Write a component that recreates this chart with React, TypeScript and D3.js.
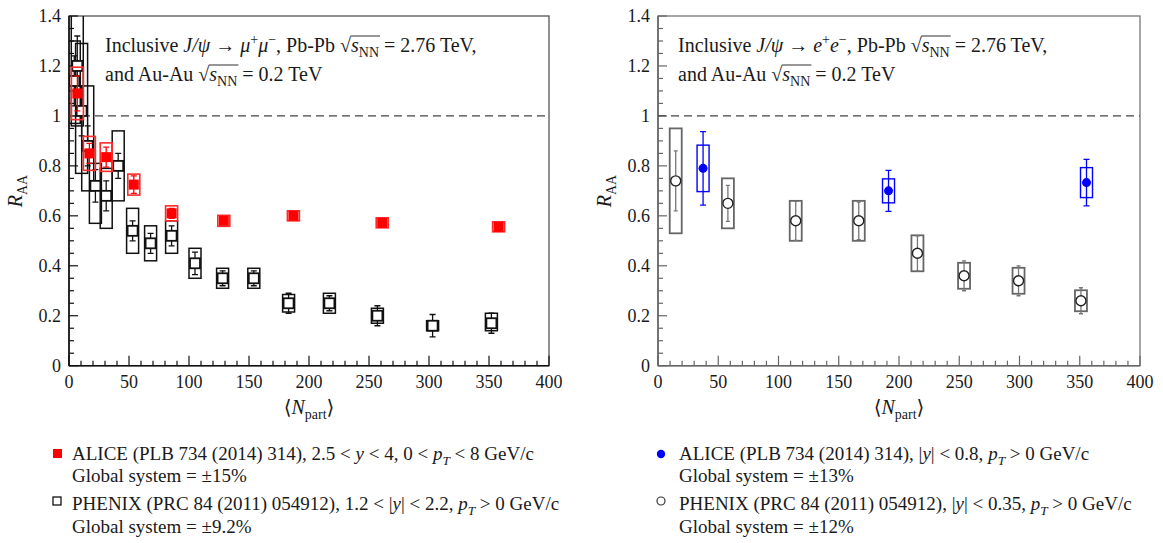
import React, { useRef, useLayoutEffect, useState } from "react";
import * as d3 from "d3";

// ---------------- DATA ----------------
// Left panel: forward rapidity (J/psi -> mu+ mu-)
const aliceFwdNpart = [7, 17, 31, 54, 85.5, 129, 187, 261, 358];
const aliceFwdRaa = [1.09, 0.85, 0.835, 0.725, 0.61, 0.58, 0.6, 0.572, 0.556];
const aliceFwdStat = [0.07, 0.04, 0.04, 0.035, 0.02, 0.012, 0.012, 0.012, 0.012];
const aliceFwdSys = [0.105, 0.068, 0.057, 0.042, 0.03, 0.022, 0.02, 0.02, 0.02];

const phenixFwdNpart = [4.4, 6.9, 10.5, 15.6, 22, 31, 41, 53, 68, 85.5, 105, 128, 154, 183, 217, 257, 303, 352];
const phenixFwdRaa = [1.14, 1.2, 1.02, 0.88, 0.72, 0.68, 0.8, 0.54, 0.49, 0.52, 0.41, 0.35, 0.35, 0.25, 0.25, 0.2, 0.16, 0.17];
const phenixFwdStat = [0.1, 0.12, 0.1, 0.08, 0.065, 0.06, 0.05, 0.04, 0.04, 0.04, 0.045, 0.03, 0.03, 0.04, 0.03, 0.04, 0.045, 0.04];
const phenixFwdSysLo = [0.97, 0.96, 0.77, 0.7, 0.57, 0.55, 0.66, 0.45, 0.42, 0.45, 0.35, 0.31, 0.31, 0.215, 0.21, 0.17, 0.14, 0.14];
const phenixFwdSysHi = [1.3, 1.45, 1.29, 1.12, 0.81, 0.79, 0.94, 0.63, 0.56, 0.58, 0.47, 0.39, 0.39, 0.285, 0.29, 0.23, 0.18, 0.21];

// Right panel: mid rapidity (J/psi -> e+ e-)
const aliceMidNpart = [37.4, 191.3, 355.6];
const aliceMidRaa = [0.79, 0.7, 0.733];
const aliceMidStat = [0.147, 0.082, 0.093];
const aliceMidSys = [0.093, 0.048, 0.06];

const phenixMidNpart = [14.7, 58, 114.3, 166.6, 215.3, 254, 299.2, 351];
const phenixMidRaa = [0.74, 0.65, 0.58, 0.58, 0.45, 0.36, 0.34, 0.26];
const phenixMidStat = [0.12, 0.072, 0.078, 0.075, 0.07, 0.06, 0.06, 0.052];
const phenixMidSys = [0.21, 0.1, 0.08, 0.08, 0.072, 0.052, 0.052, 0.042];

const xTicks = [0, 50, 100, 150, 200, 250, 300, 350, 400];
const yTicks = [0, 0.2, 0.4, 0.6, 0.8, 1, 1.2, 1.4];

// ---------------- TEXT HELPERS ----------------
type Seg = { t: string; i?: boolean; sup?: boolean; sub?: boolean; rad?: boolean };

const FONT = "'Liberation Serif', 'DejaVu Serif', serif";

function Rich({ x, y, fs, segs, anchor = "start", fill = "#1a1a1a", transform }: any) {
  const ref = useRef<SVGTextElement>(null);
  const [ol, setOl] = useState<{ x1: number; x2: number } | null>(null);
  useLayoutEffect(() => {
    const el = ref.current;
    if (!el) return;
    let idx = 0, start = -1, end = -1;
    (segs as Seg[]).forEach((s) => {
      const n = s.t.length;
      if (s.rad) {
        if (start < 0) start = idx;
        end = idx + n - 1;
      }
      idx += n;
    });
    if (start >= 0) {
      try {
        const a = el.getStartPositionOfChar(start).x;
        const b = el.getEndPositionOfChar(end).x;
        setOl({ x1: a - 0.5, x2: b + 1 });
      } catch (e) {}
    }
  }, []);
  let cur = 0;
  const spans = (segs as Seg[]).map((s, k) => {
    const target = s.sup ? -0.38 * fs : s.sub ? 0.24 * fs : 0;
    const dy = target - cur;
    cur = target;
    return (
      <tspan
        key={k}
        dy={dy !== 0 ? dy : undefined}
        fontStyle={s.i ? "italic" : undefined}
        fontSize={s.sup || s.sub ? fs * 0.7 : undefined}
      >
        {s.t}
      </tspan>
    );
  });
  return (
    <g transform={transform}>
      <text ref={ref} x={x} y={y} fontSize={fs} fontFamily={FONT} fill={fill} textAnchor={anchor} style={{ whiteSpace: "pre" }}>
        {spans}
      </text>
      {ol && <line x1={ol.x1} x2={ol.x2} y1={y - fs * 0.8} y2={y - fs * 0.8} stroke={fill} strokeWidth={0.9} />}
    </g>
  );
}

const annoLeft1: Seg[] = [
  { t: "Inclusive " }, { t: "J/ψ", i: true }, { t: " → " }, { t: "μ", i: true }, { t: "+", sup: true },
  { t: "μ", i: true }, { t: "−", sup: true }, { t: ", Pb-Pb " }, { t: "√" }, { t: "s", i: true, rad: true },
  { t: "NN", sub: true, rad: true }, { t: " = 2.76 TeV," },
];
const annoLeft2: Seg[] = [
  { t: "and Au-Au " }, { t: "√" }, { t: "s", i: true, rad: true }, { t: "NN", sub: true, rad: true }, { t: " = 0.2 TeV" },
];
const annoRight1: Seg[] = [
  { t: "Inclusive " }, { t: "J/ψ", i: true }, { t: " → " }, { t: "e", i: true }, { t: "+", sup: true },
  { t: "e", i: true }, { t: "−", sup: true }, { t: ", Pb-Pb " }, { t: "√" }, { t: "s", i: true, rad: true },
  { t: "NN", sub: true, rad: true }, { t: " = 2.76 TeV," },
];
const annoRight2 = annoLeft2;

const legL1: Seg[] = [
  { t: "ALICE (PLB 734 (2014) 314), 2.5 < " }, { t: "y", i: true }, { t: " < 4, 0 < " }, { t: "p", i: true },
  { t: "T", i: true, sub: true }, { t: " < 8 GeV/c" },
];
const legL2: Seg[] = [
  { t: "PHENIX (PRC 84 (2011) 054912), 1.2 < |" }, { t: "y", i: true }, { t: "| < 2.2, " }, { t: "p", i: true },
  { t: "T", i: true, sub: true }, { t: " > 0 GeV/c" },
];
const legR1: Seg[] = [
  { t: "ALICE (PLB 734 (2014) 314), |" }, { t: "y", i: true }, { t: "| < 0.8, " }, { t: "p", i: true },
  { t: "T", i: true, sub: true }, { t: " > 0 GeV/c" },
];
const legR2: Seg[] = [
  { t: "PHENIX (PRC 84 (2011) 054912), |" }, { t: "y", i: true }, { t: "| < 0.35, " }, { t: "p", i: true },
  { t: "T", i: true, sub: true }, { t: " > 0 GeV/c" },
];
const yTitle: Seg[] = [{ t: "R", i: true }, { t: "AA", sub: true }];
const xTitle: Seg[] = [{ t: "⟨" }, { t: "N", i: true }, { t: "part", sub: true }, { t: "⟩" }];

// ---------------- PANEL ----------------
const Y_TOP = 16;
const Y_BOT = 365.7;
const BOX_HW = 6; // px half width of sys boxes

function Panel({ id, px0, px1, axisColor, frameColor, children, anno1, anno2, annoX }: any) {
  const x = d3.scaleLinear().domain([0, 400]).range([px0, px1]);
  const y = d3.scaleLinear().domain([0, 1.4]).range([Y_BOT, Y_TOP]);
  const yMinor = d3.range(0, 1.4001, 0.05);
  const xMinor = d3.range(0, 400.1, 10);
  const fmt = d3.format("~g");
  return (
    <g>
      <defs>
        <clipPath id={id}>
          <rect x={px0} y={Y_TOP} width={px1 - px0} height={Y_BOT - Y_TOP} />
        </clipPath>
      </defs>
      <rect x={px0} y={Y_TOP} width={px1 - px0} height={Y_BOT - Y_TOP} fill="none" stroke={frameColor} strokeWidth={1.3} />
      <line x1={px0} x2={px0} y1={Y_TOP} y2={Y_BOT} stroke={axisColor} strokeWidth={1.6} />
      <line x1={px0} x2={px1} y1={Y_BOT} y2={Y_BOT} stroke={axisColor} strokeWidth={1.6} />
      {yMinor.map((v, k) => {
        const major = k % 4 === 0;
        return <line key={"ym" + k} x1={px0} x2={px0 + (major ? 9 : 5)} y1={y(v)} y2={y(v)} stroke={axisColor} strokeWidth={1.2} />;
      })}
      {xMinor.map((v, k) => {
        const major = k % 5 === 0;
        return <line key={"xm" + k} x1={x(v)} x2={x(v)} y1={Y_BOT} y2={Y_BOT - (major ? 10 : 5)} stroke={axisColor} strokeWidth={1.2} />;
      })}
      {yTicks.map((v) => (
        <text key={"yl" + v} x={px0 - 8} y={y(v) + 6} textAnchor="end" fontSize={18} fontFamily={FONT} fill="#1a1a1a">
          {fmt(v)}
        </text>
      ))}
      {xTicks.map((v) => (
        <text key={"xl" + v} x={x(v)} y={Y_BOT + 22} textAnchor="middle" fontSize={18} fontFamily={FONT} fill="#1a1a1a">
          {fmt(v)}
        </text>
      ))}
      <line x1={px0} x2={px1} y1={y(1)} y2={y(1)} stroke="#444" strokeWidth={1.4} strokeDasharray="8,5" />
      <Rich x={(px0 + px1) / 2} y={414} fs={20} segs={xTitle} anchor="middle" />
      <Rich x={0} y={0} fs={20} segs={yTitle} anchor="middle" transform={`translate(${px0 - 47},191) rotate(-90)`} />
      <Rich x={annoX} y={52} fs={20} segs={anno1} />
      <Rich x={annoX} y={81} fs={20} segs={anno2} />
      <g clipPath={`url(#${id})`}>{children(x, y)}</g>
    </g>
  );
}

function ErrBar({ cx, y1, y2, color, w = 1.3, cap = 3 }: any) {
  return (
    <g stroke={color} strokeWidth={w}>
      <line x1={cx} x2={cx} y1={y1} y2={y2} />
      <line x1={cx - cap} x2={cx + cap} y1={y1} y2={y1} />
      <line x1={cx - cap} x2={cx + cap} y1={y2} y2={y2} />
    </g>
  );
}

export default function App() {
  return (
    <svg width={1163} height={543} style={{ position: "absolute", left: 0, top: 0, background: "#fff" }}>
      <rect x={0} y={0} width={1163} height={543} fill="#fff" />
      <Panel id="clipL" px0={69} px1={549} axisColor="#111" frameColor="#555" anno1={annoLeft1} anno2={annoLeft2} annoX={105}>
        {(x: any, y: any) => (
          <g>
            {phenixFwdNpart.map((n, k) => (
              <rect key={"pb" + k} x={x(n) - BOX_HW} width={BOX_HW * 2} y={y(phenixFwdSysHi[k])}
                height={y(phenixFwdSysLo[k]) - y(phenixFwdSysHi[k])} fill="none" stroke="#111" strokeWidth={1.5} />
            ))}
            {phenixFwdNpart.map((n, k) => (
              <ErrBar key={"pe" + k} cx={x(n)} y1={y(phenixFwdRaa[k] + phenixFwdStat[k])} y2={y(phenixFwdRaa[k] - phenixFwdStat[k])} color="#111" />
            ))}
            {phenixFwdNpart.map((n, k) => (
              <rect key={"pm" + k} x={x(n) - 5} y={y(phenixFwdRaa[k]) - 5} width={10} height={10} fill="#fff" stroke="#111" strokeWidth={1.8} />
            ))}
            {aliceFwdNpart.map((n, k) => (
              <rect key={"ab" + k} x={x(n) - BOX_HW} width={BOX_HW * 2} y={y(aliceFwdRaa[k] + aliceFwdSys[k])}
                height={y(aliceFwdRaa[k] - aliceFwdSys[k]) - y(aliceFwdRaa[k] + aliceFwdSys[k])} fill="none" stroke="#ff2a2a" strokeWidth={1.6} />
            ))}
            {aliceFwdNpart.map((n, k) => (
              <ErrBar key={"ae" + k} cx={x(n)} y1={y(aliceFwdRaa[k] + aliceFwdStat[k])} y2={y(aliceFwdRaa[k] - aliceFwdStat[k])} color="#ff0000" />
            ))}
            {aliceFwdNpart.map((n, k) => (
              <rect key={"am" + k} x={x(n) - 5} y={y(aliceFwdRaa[k]) - 5} width={10} height={10} fill="#ff0000" />
            ))}
          </g>
        )}
      </Panel>
      <Panel id="clipR" px0={658} px1={1140} axisColor="#666" frameColor="#777" anno1={annoRight1} anno2={annoRight2} annoX={678}>
        {(x: any, y: any) => (
          <g>
            {phenixMidNpart.map((n, k) => (
              <rect key={"qb" + k} x={x(n) - BOX_HW} width={BOX_HW * 2} y={y(phenixMidRaa[k] + phenixMidSys[k])}
                height={y(phenixMidRaa[k] - phenixMidSys[k]) - y(phenixMidRaa[k] + phenixMidSys[k])} fill="none" stroke="#666" strokeWidth={1.8} />
            ))}
            {phenixMidNpart.map((n, k) => (
              <ErrBar key={"qe" + k} cx={x(n)} y1={y(phenixMidRaa[k] + phenixMidStat[k])} y2={y(phenixMidRaa[k] - phenixMidStat[k])} color="#777" w={1.3} cap={2} />
            ))}
            {phenixMidNpart.map((n, k) => (
              <circle key={"qm" + k} cx={x(n)} cy={y(phenixMidRaa[k])} r={5} fill="#fff" stroke="#222" strokeWidth={1.4} />
            ))}
            {aliceMidNpart.map((n, k) => (
              <rect key={"bb" + k} x={x(n) - BOX_HW} width={BOX_HW * 2} y={y(aliceMidRaa[k] + aliceMidSys[k])}
                height={y(aliceMidRaa[k] - aliceMidSys[k]) - y(aliceMidRaa[k] + aliceMidSys[k])} fill="none" stroke="#0000ff" strokeWidth={1.4} />
            ))}
            {aliceMidNpart.map((n, k) => (
              <ErrBar key={"be" + k} cx={x(n)} y1={y(aliceMidRaa[k] + aliceMidStat[k])} y2={y(aliceMidRaa[k] - aliceMidStat[k])} color="#0000ff" w={1.3} cap={3} />
            ))}
            {aliceMidNpart.map((n, k) => (
              <circle key={"bm" + k} cx={x(n)} cy={y(aliceMidRaa[k])} r={4.5} fill="#0000ff" />
            ))}
          </g>
        )}
      </Panel>
      {/* Legends */}
      <rect x={53} y={449} width={9} height={9} fill="#ff0000" />
      <Rich x={72} y={460} fs={19} segs={legL1} />
      <Rich x={72} y={482} fs={19} segs={[{ t: "Global system = ±15%" }]} />
      <rect x={53} y={497} width={8} height={8} fill="#fff" stroke="#111" strokeWidth={1.3} />
      <Rich x={72} y={510} fs={19} segs={legL2} />
      <Rich x={72} y={533} fs={19} segs={[{ t: "Global system = ±9.2%" }]} />

      <circle cx={661} cy={454} r={4.2} fill="#0000ff" />
      <Rich x={679} y={460} fs={19} segs={legR1} />
      <Rich x={679} y={482} fs={19} segs={[{ t: "Global system = ±13%" }]} />
      <circle cx={661} cy={501} r={4} fill="#fff" stroke="#333" strokeWidth={1.2} />
      <Rich x={679} y={510} fs={19} segs={legR2} />
      <Rich x={679} y={533} fs={19} segs={[{ t: "Global system = ±12%" }]} />
    </svg>
  );
}
